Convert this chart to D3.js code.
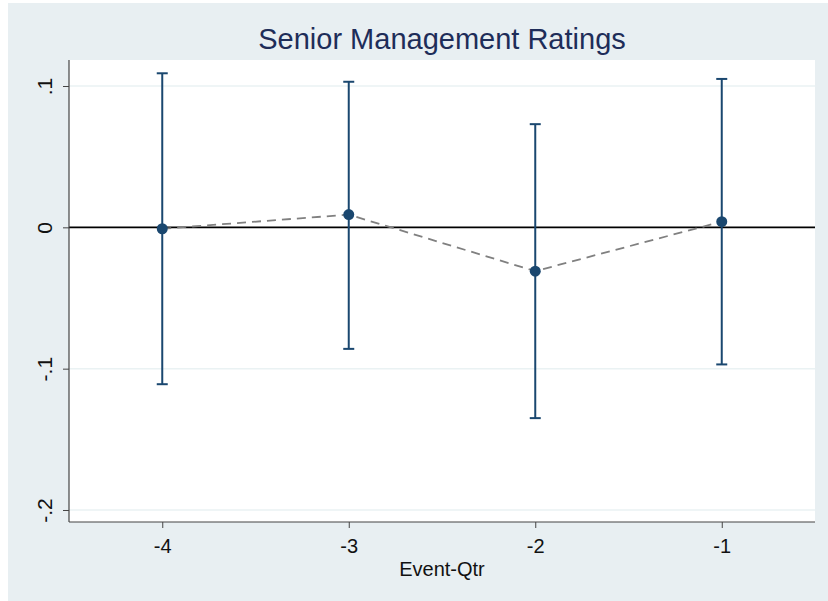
<!DOCTYPE html>
<html>
<head>
<meta charset="utf-8">
<script src="https://cdn.jsdelivr.net/npm/d3@7"></script>
<style>
  body { margin: 0; background: #ffffff; }
  text { font-family: "Liberation Sans", Arial, sans-serif; }
</style>
</head>
<body>
<div id="chart"></div>
<script>
// event quarters and estimates
var quarters = [-4, -3, -2, -1];
var quarterLabels = ["-4", "-3", "-2", "-1"];
var estimates = [-0.001, 0.009, -0.031, 0.004];
var ciLower = [-0.111, -0.086, -0.135, -0.097];
var ciUpper = [0.109, 0.103, 0.073, 0.105];
var yTicks = [-0.2, -0.1, 0, 0.1];
var yTickLabels = ["-.2", "-.1", "0", ".1"];

var data = quarters.map((q, i) => ({q: q, est: estimates[i], lo: ciLower[i], hi: ciUpper[i]}));

var W = 828, H = 601;
var margin = {top: 60, right: 13, bottom: 79, left: 69},
    width = W - margin.left - margin.right,
    height = H - margin.top - margin.bottom;

var svg = d3.select("#chart").append("svg")
  .attr("width", W)
  .attr("height", H);

// outer graph region
svg.append("rect")
  .attr("x", 8).attr("y", 3)
  .attr("width", W - 8).attr("height", H - 3)
  .attr("fill", "#e8eff2");

var g = svg.append("g")
  .attr("transform", "translate(" + margin.left + "," + margin.top + ")");

// plot region
g.append("rect")
  .attr("width", width).attr("height", height)
  .attr("fill", "#ffffff");

var x = d3.scaleLinear().domain([-4.5, -0.5]).range([0, width]);
var y = d3.scaleLinear().domain([-0.2085, 0.1184]).range([height, 0]);

// grid lines
g.selectAll(".grid")
  .data(yTicks.filter(d => d !== 0))
  .enter().append("line")
  .attr("class", "grid")
  .attr("x1", 0).attr("x2", width)
  .attr("y1", d => y(d)).attr("y2", d => y(d))
  .attr("stroke", "#eaf2f3")
  .attr("stroke-width", 1.5);

// zero line
g.append("line")
  .attr("x1", 0).attr("x2", width)
  .attr("y1", y(0)).attr("y2", y(0))
  .attr("stroke", "#000")
  .attr("stroke-width", 1.6);

// y axis
var yAxis = g.append("g")
  .call(d3.axisLeft(y)
    .tickValues(yTicks)
    .tickSize(6)
    .tickFormat((d, i) => yTickLabels[i]));
yAxis.select(".domain").attr("stroke", "#444").attr("stroke-width", 1.2)
  .attr("d", "M0," + height + "V0");
yAxis.selectAll(".tick line").attr("stroke", "#444");
yAxis.selectAll(".tick text")
  .attr("transform", "rotate(-90)")
  .attr("x", 0).attr("y", -17)
  .attr("dy", 0)
  .attr("text-anchor", "middle")
  .style("font-size", "21px")
  .attr("fill", "#111");

// x axis
var xAxis = g.append("g")
  .attr("transform", "translate(0," + height + ")")
  .call(d3.axisBottom(x)
    .tickValues(quarters)
    .tickSize(6)
    .tickFormat((d, i) => quarterLabels[i]));
xAxis.select(".domain").attr("stroke", "#444").attr("stroke-width", 1.2)
  .attr("d", "M0,0H" + width);
xAxis.selectAll(".tick line").attr("stroke", "#444");
xAxis.selectAll(".tick text")
  .attr("y", 17)
  .style("font-size", "20px")
  .attr("fill", "#111");

// axis title
g.append("text")
  .attr("x", width / 2)
  .attr("y", height + 54)
  .attr("text-anchor", "middle")
  .style("font-size", "20px")
  .attr("fill", "#111")
  .text("Event-Qtr");

// chart title
svg.append("text")
  .attr("x", margin.left + width / 2)
  .attr("y", 49)
  .attr("text-anchor", "middle")
  .style("font-size", "29px")
  .attr("fill", "#1e2d59")
  .text("Senior Management Ratings");

var navy = "#1a476f";

// confidence interval bars
g.selectAll(".ci")
  .data(data)
  .enter().append("line")
  .attr("class", "ci")
  .attr("x1", d => x(d.q)).attr("x2", d => x(d.q))
  .attr("y1", d => y(d.lo)).attr("y2", d => y(d.hi))
  .attr("stroke", navy)
  .attr("stroke-width", 2);

// caps
["lo", "hi"].forEach(k => {
  g.selectAll(".cap-" + k)
    .data(data)
    .enter().append("line")
    .attr("class", "cap-" + k)
    .attr("x1", d => x(d.q) - 5.5).attr("x2", d => x(d.q) + 5.5)
    .attr("y1", d => y(d[k])).attr("y2", d => y(d[k]))
    .attr("stroke", navy)
    .attr("stroke-width", 2);
});

// connecting dashed line
g.append("path")
  .datum(data)
  .attr("fill", "none")
  .attr("stroke", "#808080")
  .attr("stroke-width", 1.8)
  .attr("stroke-dasharray", "9,6")
  .attr("d", d3.line().x(d => x(d.q)).y(d => y(d.est)));

// point estimates
g.selectAll(".pt")
  .data(data)
  .enter().append("circle")
  .attr("class", "pt")
  .attr("cx", d => x(d.q))
  .attr("cy", d => y(d.est))
  .attr("r", 5.5)
  .attr("fill", navy);
</script>
</body>
</html>
